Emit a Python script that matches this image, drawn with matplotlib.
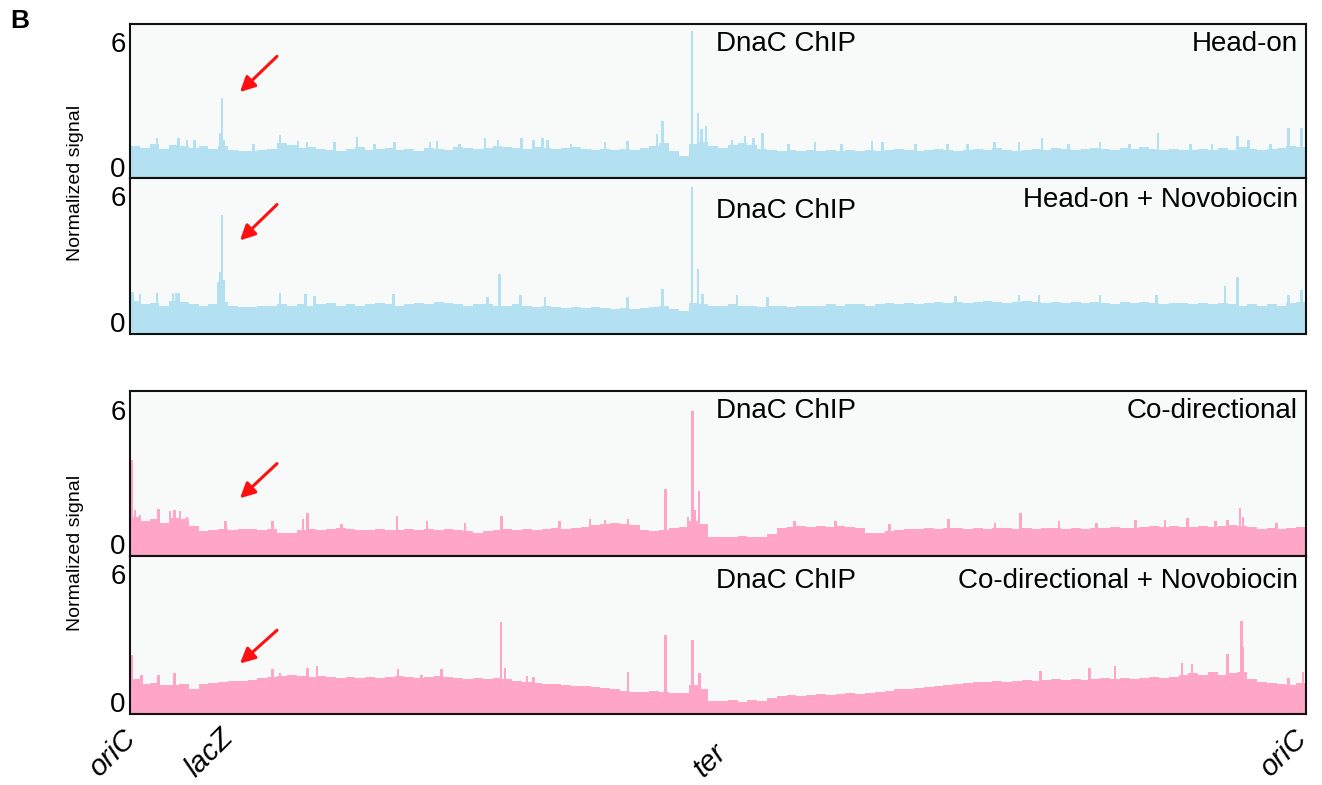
import numpy as np
import matplotlib
matplotlib.use("Agg")
import matplotlib.pyplot as plt
from matplotlib.transforms import blended_transform_factory, ScaledTranslation

plt.rcParams['font.family'] = ['Liberation Sans', 'DejaVu Sans']

# ---------------- data ----------------
panel_labels = ["Head-on", "Head-on + Novobiocin", "Co-directional", "Co-directional + Novobiocin"]
chip_label = "DnaC ChIP"
locus_names = ["oriC", "lacZ", "ter", "oriC"]
locus_pos = [0.0, 7.82, 47.8, 100.0]      # % of plotted genome (oriC -> ter -> oriC)
y_ticks = [0, 6]

# binned background signal (120 bins across the genome)
head_on_bins = [
    1.0, 0.9, 1.1, 0.85, 1.05, 1.0, 0.9, 1.0, 0.85, 1.0, 0.8, 0.75,
    0.75, 0.8, 0.85, 1.15, 1.05, 0.9, 0.95, 0.85, 0.8, 0.75, 0.85, 0.95,
    0.8, 0.85, 0.9, 0.8, 0.85, 0.75, 0.9, 0.85, 0.8, 0.95, 0.9, 0.85,
    0.9, 1.0, 0.95, 0.9, 0.85, 0.95, 0.9, 0.85, 0.9, 0.95, 0.85, 0.8,
    0.85, 0.8, 0.85, 0.8, 0.9, 1.0, 1.15, 0.75, 0.5, 1.1, 1.2, 1.0,
    0.9, 1.05, 1.15, 1.05, 0.85, 0.8, 0.75, 0.8, 0.75, 0.8, 0.75, 0.8,
    0.75, 0.8, 0.75, 0.8, 0.75, 0.8, 0.85, 0.8, 0.75, 0.8, 0.85, 0.8,
    0.75, 0.8, 0.85, 0.8, 0.9, 0.8, 0.75, 0.8, 0.85, 0.8, 0.9, 0.85,
    0.8, 0.85, 0.9, 0.85, 0.8, 0.9, 0.85, 0.95, 0.85, 0.8, 0.85, 0.8,
    0.8, 0.85, 0.8, 0.9, 0.8, 0.95, 0.85, 0.8, 0.85, 0.9, 1.0, 0.95]
head_on_peak_pos = [2.3, 4.1, 4.85, 5.5, 7.65, 7.82, 8.0, 10.5, 12.75, 14.3, 15.05, 17.4,
                    19.3, 20.8, 22.5, 25.5, 26.1, 28.0, 30.2, 31.3, 33.3, 34.3, 35.1, 35.5,
                    37.5, 40.4, 42.3, 44.8, 45.3, 47.8, 48.3, 48.6, 48.98, 51.2, 52.3, 53.0,
                    53.8, 56.0, 58.25, 60.5, 63.1, 64.0, 66.8, 69.5, 71.2, 73.5, 75.6, 77.55,
                    79.8, 82.5, 85.0, 87.4, 90.2, 92.0, 94.2, 95.1, 97.0, 98.5, 99.6]
head_on_peak_val = [1.35, 1.35, 1.3, 1.3, 1.6, 3.3, 1.3, 1.1, 1.5, 1.25, 1.2, 1.2,
                    1.4, 1.1, 1.2, 1.2, 1.25, 1.1, 1.35, 1.3, 1.35, 1.3, 1.35, 1.3,
                    1.1, 1.2, 1.25, 1.55, 2.2, 6.5, 2.55, 1.8, 1.95, 1.3, 1.45, 1.35,
                    1.6, 1.1, 1.2, 1.1, 1.25, 1.2, 1.1, 1.1, 1.1, 1.2, 1.2, 1.35,
                    1.1, 1.2, 1.1, 1.6, 1.1, 1.1, 1.45, 1.3, 1.1, 1.85, 1.85]

head_on_novo_bins = [
    1.0, 0.85, 0.9, 0.8, 1.0, 0.95, 0.85, 0.8, 0.85, 0.95, 0.8, 0.75,
    0.75, 0.8, 0.8, 0.85, 0.8, 0.85, 0.8, 0.85, 0.9, 0.8, 0.85, 0.8,
    0.85, 0.9, 0.85, 0.8, 0.85, 0.9, 0.85, 0.95, 0.9, 0.85, 0.8, 0.85,
    0.85, 0.8, 0.8, 0.85, 0.8, 0.75, 0.8, 0.75, 0.7, 0.75, 0.7, 0.75,
    0.7, 0.65, 0.7, 0.65, 0.7, 0.75, 0.8, 0.65, 0.55, 0.9, 0.85, 0.8,
    0.8, 0.85, 0.8, 0.8, 0.75, 0.8, 0.8, 0.75, 0.8, 0.8, 0.8, 0.85,
    0.8, 0.85, 0.85, 0.8, 0.85, 0.9, 0.85, 0.9, 0.85, 0.9, 0.95, 0.9,
    0.95, 0.9, 0.95, 1.0, 0.95, 0.9, 0.95, 1.0, 0.95, 0.9, 0.95, 0.9,
    0.95, 0.9, 0.95, 0.9, 0.85, 0.95, 0.9, 0.95, 0.9, 0.85, 0.9, 0.9,
    0.85, 0.9, 0.85, 0.9, 0.85, 0.8, 0.85, 0.8, 0.85, 0.8, 0.9, 0.95]
head_on_novo_peak_pos = [0.2, 0.85, 2.3, 3.65, 3.9, 4.1, 7.55, 7.7, 7.82, 7.95, 12.75, 14.9,
                         15.7, 22.4, 30.4, 31.4, 33.2, 35.3, 42.3, 45.3, 47.8, 48.3, 48.7, 51.6,
                         54.2, 70.2, 75.6, 77.3, 82.5, 87.3, 93.1, 94.2, 98.5, 99.6]
head_on_novo_peak_val = [1.45, 1.35, 1.4, 1.4, 1.4, 1.4, 1.9, 2.4, 5.1, 2.0, 1.4, 1.35,
                         1.25, 1.35, 1.2, 2.3, 1.3, 1.2, 1.2, 1.6, 6.4, 2.55, 1.35, 1.3,
                         1.2, 1.25, 1.3, 1.3, 1.3, 1.3, 1.75, 2.15, 1.3, 1.55]

co_dir_bins = [
    1.2, 1.0, 1.1, 0.95, 1.15, 1.1, 0.8, 0.55, 0.6, 0.65, 0.6, 0.65,
    0.65, 0.6, 0.65, 0.5, 0.5, 0.6, 0.65, 0.6, 0.65, 0.7, 0.65, 0.6,
    0.6, 0.65, 0.6, 0.6, 0.65, 0.6, 0.65, 0.6, 0.65, 0.6, 0.55, 0.5,
    0.55, 0.6, 0.65, 0.6, 0.65, 0.6, 0.65, 0.7, 0.65, 0.7, 0.75, 0.85,
    0.9, 0.95, 0.9, 0.85, 0.6, 0.55, 0.6, 0.7, 0.75, 1.0, 0.9, 0.3,
    0.3, 0.3, 0.35, 0.3, 0.3, 0.45, 0.7, 0.75, 0.8, 0.75, 0.8, 0.75,
    0.8, 0.75, 0.7, 0.5, 0.5, 0.55, 0.6, 0.65, 0.65, 0.7, 0.65, 0.7,
    0.7, 0.65, 0.7, 0.65, 0.7, 0.7, 0.65, 0.7, 0.65, 0.7, 0.7, 0.65,
    0.7, 0.65, 0.7, 0.7, 0.75, 0.7, 0.7, 0.75, 0.8, 0.75, 0.8, 0.75,
    0.75, 0.8, 0.75, 0.8, 0.85, 0.8, 0.75, 0.65, 0.7, 0.65, 0.7, 0.75]
co_dir_peak_pos = [0.15, 0.43, 0.85, 2.4, 3.4, 3.8, 4.25, 4.85, 8.1, 12.1, 14.7, 15.1,
                   18.0, 22.7, 25.25, 28.5, 31.6, 36.5, 39.1, 40.4, 42.35, 45.55, 47.45, 47.85,
                   48.05, 48.4, 56.5, 60.0, 64.6, 69.6, 73.55, 75.7, 79.0, 82.2, 85.5, 88.0,
                   89.9, 92.3, 93.3, 94.4, 94.65, 97.5]
co_dir_peak_val = [3.75, 1.5, 1.3, 1.55, 1.45, 1.5, 1.45, 1.2, 1.0, 1.0, 1.1, 1.4,
                   0.9, 1.25, 1.0, 0.95, 1.25, 1.0, 1.1, 1.05, 1.1, 2.45, 1.2, 5.95,
                   1.5, 2.37, 1.0, 1.0, 0.9, 1.1, 0.95, 1.38, 1.0, 0.95, 1.05, 1.05,
                   1.15, 1.0, 1.05, 1.6, 1.2, 0.95]

co_dir_novo_bins = [
    1.1, 0.85, 0.9, 0.8, 0.8, 0.85, 0.6, 0.85, 0.9, 0.95, 1.0, 1.0,
    1.05, 1.15, 1.2, 1.25, 1.3, 1.25, 1.2, 1.25, 1.2, 1.15, 1.2, 1.15,
    1.2, 1.15, 1.2, 1.25, 1.2, 1.15, 1.2, 1.25, 1.2, 1.15, 1.1, 1.15,
    1.1, 1.15, 1.1, 1.0, 0.95, 0.9, 0.85, 0.85, 0.8, 0.75, 0.75, 0.7,
    0.65, 0.6, 0.55, 0.5, 0.5, 0.55, 0.5, 0.45, 0.45, 0.8, 0.6, 0.05,
    0.05, 0.1, 0.0, 0.1, 0.05, 0.2, 0.3, 0.35, 0.3, 0.35, 0.4, 0.35,
    0.4, 0.45, 0.4, 0.45, 0.5, 0.55, 0.6, 0.6, 0.65, 0.7, 0.75, 0.8,
    0.85, 0.9, 0.95, 0.95, 1.0, 0.95, 1.0, 1.05, 1.0, 1.05, 1.1, 1.05,
    1.1, 1.05, 1.1, 1.15, 1.1, 1.15, 1.1, 1.15, 1.2, 1.15, 1.2, 1.3,
    1.35, 1.3, 1.4, 1.3, 1.35, 1.4, 1.1, 0.95, 0.9, 0.85, 0.8, 0.9]
co_dir_novo_peak_pos = [0.15, 1.0, 2.4, 3.8, 12.1, 12.75, 15.1, 15.9, 22.8, 24.8, 26.5, 31.55,
                        31.9, 33.75, 34.3, 42.35, 45.55, 47.85, 48.45, 77.4, 81.6, 83.75, 89.45, 90.3,
                        93.3, 94.5, 94.65, 98.5, 99.75]
co_dir_novo_peak_val = [2.2, 1.3, 1.3, 1.35, 1.55, 1.35, 1.6, 1.7, 1.55, 1.3, 1.55, 3.77,
                        1.6, 1.25, 1.2, 1.42, 3.15, 2.92, 1.35, 1.45, 1.6, 1.7, 1.85, 1.8,
                        2.25, 3.82, 2.6, 1.15, 1.4]

panels_bins = [head_on_bins, head_on_novo_bins, co_dir_bins, co_dir_novo_bins]
panels_peak_pos = [head_on_peak_pos, head_on_novo_peak_pos, co_dir_peak_pos, co_dir_novo_peak_pos]
panels_peak_val = [head_on_peak_val, head_on_novo_peak_val, co_dir_peak_val, co_dir_novo_peak_val]

# ---------------- style / layout ----------------
W, H = 1322, 785
BLUE = '#b3e1f1'
PINK = '#ffa5c5'
colors = [BLUE, BLUE, PINK, PINK]
YMIN, YMAX = -0.55, 6.85
panel_px = [(24, 178), (178, 334), (391, 556), (556, 714)]
chip_y = [0.87, 0.79, 0.88, 0.84]
label_y = [0.87, 0.86, 0.88, 0.84]
arrow_head = [(0.0935, 0.558), (0.0935, 0.60), (0.0935, 0.35), (0.0935, 0.32)]
arrow_tail = [(0.125, 0.79), (0.125, 0.83), (0.125, 0.56), (0.125, 0.53)]

fig = plt.figure(figsize=(W / 100, H / 100), dpi=100)
axes = []
for i, (top, bot) in enumerate(panel_px):
    ax = fig.add_axes([130 / W, 1 - bot / H, 1176 / W, (bot - top) / H])
    ax.set_facecolor('#f8fafa')
    vals = np.array(panels_bins[i])
    edges = np.linspace(0, 100, len(vals) + 1)
    ax.stairs(vals, edges, baseline=YMIN, fill=True, color=colors[i], lw=0)
    pk = np.array(panels_peak_val[i])
    ax.bar(panels_peak_pos[i], pk - YMIN, bottom=YMIN, width=0.22,
           color=colors[i], lw=0, align='center')
    ax.set_xlim(0, 100)
    ax.set_ylim(YMIN, YMAX)
    ax.set_xticks([])
    ax.set_yticks(y_ticks)
    ax.set_yticklabels([str(t) for t in y_ticks])
    ax.tick_params(axis='y', length=0, labelsize=20, pad=3)
    for s in ax.spines.values():
        s.set_linewidth(1.5)
        s.set_color('#111111')
    ax.text(0.498, chip_y[i], chip_label, transform=ax.transAxes, ha='left',
            va='center', fontsize=20)
    ax.text(0.993, label_y[i], panel_labels[i], transform=ax.transAxes, ha='right',
            va='center', fontsize=20)
    ax.annotate('', xy=arrow_head[i], xytext=arrow_tail[i], xycoords='axes fraction',
                arrowprops=dict(arrowstyle='-|>,head_length=0.9,head_width=0.45',
                                color='#ff1010', lw=2.2, shrinkA=0, shrinkB=0))
    axes.append(ax)

fig.text(75 / W, 1 - 183 / H, 'Normalized signal', rotation=90, ha='center', va='center', fontsize=14)
fig.text(75 / W, 1 - 553 / H, 'Normalized signal', rotation=90, ha='center', va='center', fontsize=14)
fig.text(10 / W, 1 - 21 / H, 'B', fontweight='bold', fontsize=19, ha='left', va='center')

ax4 = axes[-1]
base = blended_transform_factory(ax4.transData, fig.transFigure)
label_dx = [-47, -42, -4, -52]
for name, pos, dx in zip(locus_names, locus_pos, label_dx):
    tr = base + ScaledTranslation(dx / 100, 0, fig.dpi_scale_trans)
    fig.text(pos, 1 - 782 / H, name, transform=tr, rotation=45, ha='left', va='bottom',
             style='italic', fontsize=21)

fig.savefig('out.png', dpi=100)
